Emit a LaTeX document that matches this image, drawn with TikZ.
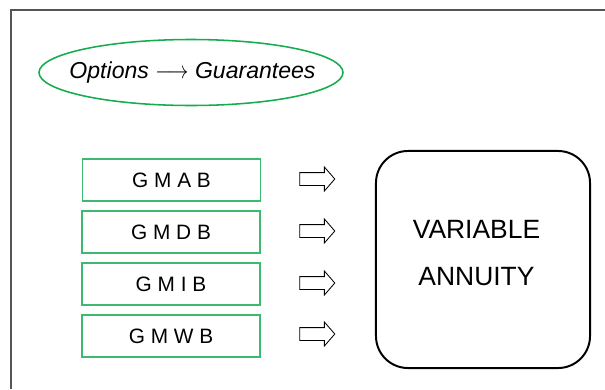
\documentclass[tikz,border=0pt]{standalone}
\usepackage{fontspec}
\usepackage{graphicx}
\setmainfont{Liberation Sans}
\usetikzlibrary{shapes.arrows}

\definecolor{ovalgreen}{RGB}{20,172,78}
\definecolor{boxgreen}{RGB}{62,186,112}
\definecolor{framegray}{RGB}{85,85,85}

\tikzset{
  gbox/.style={draw=boxgreen, line width=1pt, minimum width=4.45cm, minimum height=1.05cm,
    inner sep=0pt, font=\fontsize{14.8}{16}\selectfont},
  hollow/.style={single arrow, draw, line width=0.6pt, inner sep=0.15cm, minimum height=0.875cm,
    single arrow head extend=0.14cm, single arrow tip angle=98, single arrow head indent=0pt}
}

\begin{document}
\begin{tikzpicture}[x=0.025cm,y=-0.025cm]
  \useasboundingbox (0,0) rectangle (605,389);
  \draw[framegray, line width=1.1pt] (11,389) -- (11,10) -- (605,10);

  \node[font=\fontsize{16.4}{18}\selectfont] (opt) at (192.5,72.5)
    {\textit{Options} \scalebox{0.85}[1]{$\longrightarrow$} \textit{Guarantees}};
  \draw[ovalgreen, line width=1.1pt] (191,72.5) ellipse [x radius=152, y radius=33];

  \node[gbox] (gmab) at (171.5,180) {G M A B};
  \node[gbox] (gmdb) at (171,232) {G M D B};
  \node[gbox] (gmib) at (171,284) {G M I B};
  \node[gbox] (gmwb) at (171,336) {G M W B};

  \node[hollow] (arra) at (314.5,179) {};
  \node[hollow] (arrd) at (314.5,231) {};
  \node[hollow] (arri) at (314.5,283) {};
  \node[hollow] (arrw) at (314.5,334) {};

  \node[draw, line width=1.4pt, rounded corners=0.8cm, minimum width=5.35cm, minimum height=5.425cm] (va) at (483,259.5) {};
  \node[align=center, font=\fontsize{18.8}{33}\selectfont] (valabel) at (476.5,253) {VARIABLE\\ANNUITY};
\end{tikzpicture}
\end{document}
